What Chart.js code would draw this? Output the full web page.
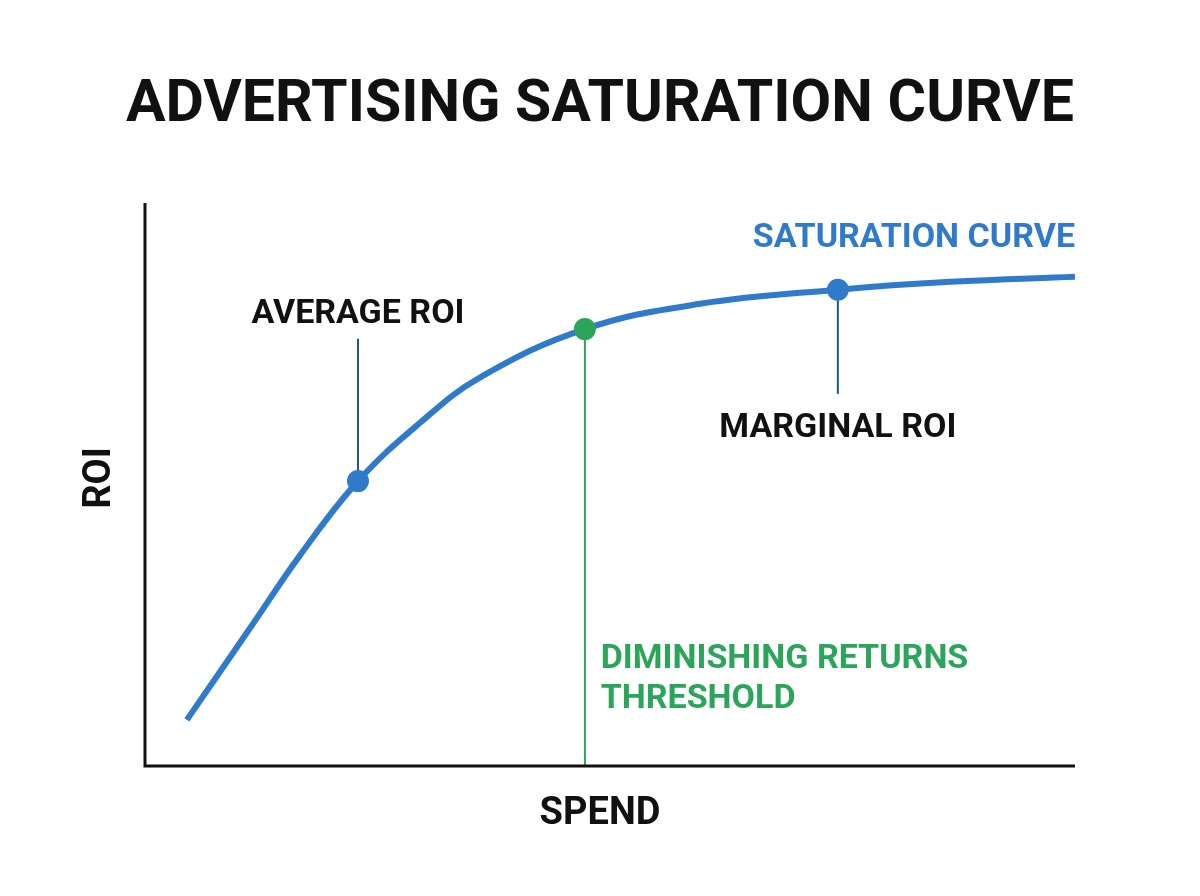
<!DOCTYPE html>
<html><head><meta charset="utf-8">
<script src="https://cdn.jsdelivr.net/npm/chart.js@4/dist/chart.umd.min.js"></script>
<style>html,body{margin:0;padding:0;background:#fff}#wrap{width:1200px;height:896px}</style>
</head><body><div id="wrap"><canvas id="c" width="1200" height="896"></canvas></div>
<script>
const spend = [4.5, 11.3, 16.7, 22.9, 29.6, 36.0, 47.3, 59.7, 74.5, 86.6, 100];
const roi   = [8.2, 24.5, 37.5, 50.6, 61.0, 69.0, 77.6, 82.1, 84.6, 86.0, 86.9];
const markers = [
  {label:'AVERAGE ROI', x:22.9, y:50.6, color:'#2f7bc9', lineTo:75.9, lineColor:'#1e5a78', text:['AVERAGE ROI'], tx:22.9, ty:80.2, tcolor:'#111', align:'center'},
  {label:'DIMINISHING RETURNS THRESHOLD', x:47.3, y:77.6, color:'#2ba55a', lineTo:0, lineColor:'#2ba55a', text:['DIMINISHING RETURNS','THRESHOLD'], tx:49.0, ty:19.0, tcolor:'#2ba55a', align:'left'},
  {label:'MARGINAL ROI', x:74.5, y:84.6, color:'#2f7bc9', lineTo:66.1, lineColor:'#1e5a78', text:['MARGINAL ROI'], tx:74.5, ty:60.0, tcolor:'#111', align:'center'}
];
const titleText = 'ADVERTISING SATURATION CURVE';
const seriesLabel = 'SATURATION CURVE';
const xTitle = 'SPEND', yTitle = 'ROI';

const deco = {
  id:'deco',
  beforeDatasetsDraw(chart){
    const {ctx, scales:{x,y}} = chart;
    ctx.save();
    markers.forEach(m=>{
      ctx.strokeStyle=m.lineColor; ctx.lineWidth=2;
      ctx.beginPath(); ctx.moveTo(x.getPixelForValue(m.x), y.getPixelForValue(m.y));
      ctx.lineTo(x.getPixelForValue(m.x), y.getPixelForValue(m.lineTo)); ctx.stroke();
    });
    ctx.strokeStyle='#111'; ctx.lineWidth=3;
    ctx.beginPath();
    ctx.moveTo(x.getPixelForValue(0), y.getPixelForValue(100));
    ctx.lineTo(x.getPixelForValue(0), y.getPixelForValue(0));
    ctx.lineTo(x.getPixelForValue(100), y.getPixelForValue(0));
    ctx.stroke();
    ctx.restore();
  },
  afterDraw(chart){
    const {ctx, scales:{x,y}} = chart;
    ctx.save();
    ctx.textBaseline='middle';
    ctx.fillStyle='#111'; ctx.textAlign='center';
    ctx.font='bold 59px Roboto';
    ctx.fillText(titleText, 600, 106);
    ctx.font='bold 38px Roboto';
    ctx.fillText(xTitle, 600, 814);
    ctx.save(); ctx.translate(100, 478); ctx.rotate(-Math.PI/2); ctx.fillText(yTitle,0,0); ctx.restore();
    ctx.font='bold 34px Roboto';
    ctx.fillStyle='#2f7bc9'; ctx.textAlign='right';
    ctx.fillText(seriesLabel, 1075, 238);
    markers.forEach(m=>{
      ctx.fillStyle=m.tcolor; ctx.textAlign=m.align;
      m.text.forEach((t,i)=>ctx.fillText(t, x.getPixelForValue(m.tx), y.getPixelForValue(m.ty)+i*40));
    });
    markers.forEach(m=>{
      ctx.fillStyle=m.color; ctx.beginPath();
      ctx.arc(x.getPixelForValue(m.x), y.getPixelForValue(m.y), 11, 0, Math.PI*2); ctx.fill();
    });
    ctx.restore();
  }
};

new Chart(document.getElementById('c'), {
  type:'line',
  data:{datasets:[{label:seriesLabel, data:spend.map((s,i)=>({x:s,y:roi[i]})), borderColor:'#2f7bc9', borderWidth:6, pointRadius:0, tension:0.4, fill:false}]},
  options:{
    responsive:false, animation:false, devicePixelRatio:1,
    layout:{padding:{left:145,right:125,top:203,bottom:130}},
    plugins:{legend:{display:false}, tooltip:{enabled:false}},
    scales:{
      x:{type:'linear', min:0, max:100, display:false},
      y:{min:0, max:100, display:false}
    }
  },
  plugins:[deco]
});
</script></body></html>
